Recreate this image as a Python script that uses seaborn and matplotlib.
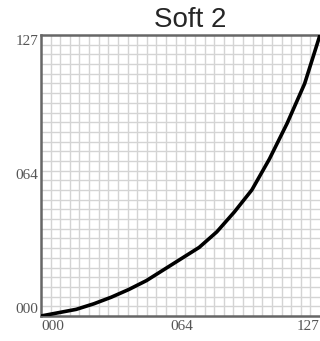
import numpy as np
import pandas as pd
import matplotlib
matplotlib.use("Agg")
import matplotlib.pyplot as plt
import seaborn as sns

# velocity curve "Soft 2" (input -> output, 0..127)
vel_in = [0, 8, 16, 24, 32, 40, 48, 56, 64, 72, 80, 88, 96, 104, 112, 120, 127]
vel_out = [0, 1.5, 3, 5.5, 8.5, 12, 16, 21, 26, 31, 38, 47, 57, 71, 87, 105, 127]
tick_vals = [0, 64, 127]
tick_labels = ["000", "064", "127"]

df = pd.DataFrame({"in": vel_in, "out": vel_out})

sns.set_style("white")
fig = plt.figure(figsize=(3.2, 3.41), dpi=100)
ax = fig.add_axes([41 / 320, 25 / 341, 279 / 320, 281 / 341])

sns.lineplot(data=df, x="in", y="out", color="black", linewidth=2.6, ax=ax, zorder=3)

ax.set_xlim(0, 127)
ax.set_ylim(0, 127)

# fine grid
grid = np.linspace(0, 127, 30)
ax.set_xticks(grid, minor=True)
ax.set_yticks(grid, minor=True)
ax.grid(which="minor", color="#d4d4d4", linewidth=1.0)
ax.tick_params(which="both", length=0)

ax.set_xticks(tick_vals)
ax.set_xticklabels(tick_labels)
ax.set_yticks(tick_vals)
ax.set_yticklabels(tick_labels)
ax.tick_params(axis="x", pad=3)
ax.tick_params(axis="y", pad=2)
for lab in ax.get_xticklabels() + ax.get_yticklabels():
    lab.set_family("Liberation Serif")
    lab.set_fontsize(11)
    lab.set_color("#555555")
xl = ax.get_xticklabels()
xl[0].set_ha("left")
xl[2].set_ha("right")
yl = ax.get_yticklabels()
yl[0].set_va("bottom")
yl[2].set_va("top")

for side in ["left", "top", "bottom"]:
    ax.spines[side].set_color("#666666")
    ax.spines[side].set_linewidth(1.8)
ax.spines["right"].set_visible(False)

ax.set_xlabel("")
ax.set_ylabel("")
ax.set_title("Soft 2", x=0.534, pad=6, fontsize=20, family="Liberation Sans")

fig.savefig("out.png", dpi=100)
